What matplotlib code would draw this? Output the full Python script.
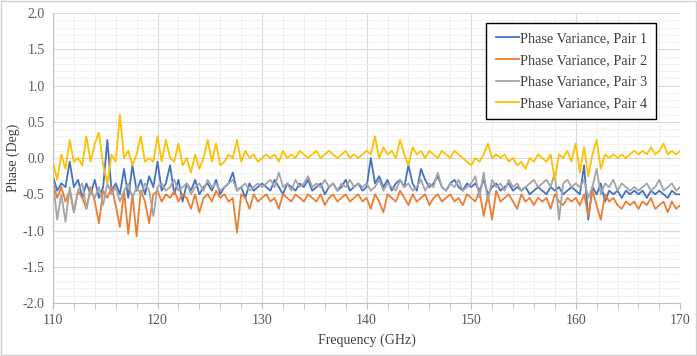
import numpy as np
import matplotlib
matplotlib.use("Agg")
import matplotlib.pyplot as plt
from matplotlib.ticker import MultipleLocator

# frequency points, 0.4 GHz apart, 110..170 GHz
freq = np.round(np.arange(110.0, 170.01, 0.4), 1)

pair1 = [
    -0.25, -0.45, -0.35, -0.40, -0.05, -0.40, -0.30, -0.55, -0.35, -0.50, -0.30, -0.55, -0.40, 0.25, -0.45, -0.35, -0.50, -0.15, -0.55, -0.10, -0.45, -0.30, -0.50, -0.25, -0.40,
    -0.05, -0.45, -0.35, -0.10, -0.50, -0.30, -0.60, -0.35, -0.45, -0.30, -0.50, -0.40, -0.35, -0.45, -0.30, -0.50, -0.40, -0.35, -0.20, -0.45, -0.40, -0.55, -0.35, -0.45, -0.40,
    -0.35, -0.40, -0.45, -0.30, -0.40, -0.50, -0.35, -0.40, -0.45, -0.35, -0.40, -0.30, -0.45, -0.40, -0.35, -0.50, -0.40, -0.35, -0.45, -0.40, -0.30, -0.45, -0.40, -0.35, -0.45,
    -0.40, 0.00, -0.35, -0.25, -0.40, -0.30, -0.45, -0.35, -0.30, -0.40, -0.10, -0.35, -0.45, -0.15, -0.30, -0.40, -0.35, -0.25, -0.40, -0.45, -0.35, -0.30, -0.40, -0.45, -0.35,
    -0.40, -0.35, -0.45, -0.30, -0.50, -0.40, -0.35, -0.45, -0.40, -0.35, -0.45, -0.40, -0.45, -0.40, -0.50, -0.45, -0.40, -0.45, -0.50, -0.40, -0.45, -0.40, -0.50, -0.45, -0.40,
    -0.45, -0.50, -0.10, -0.85, -0.40, -0.50, -0.35, -0.60, -0.45, -0.50, -0.45, -0.55, -0.45, -0.50, -0.45, -0.50, -0.45, -0.55, -0.45, -0.50, -0.45, -0.50, -0.55, -0.45, -0.50,
    -0.50,
]

pair2 = [
    -0.35, -0.55, -0.40, -0.60, -0.45, -0.75, -0.45, -0.55, -0.70, -0.40, -0.60, -0.90, -0.45, -0.55, -0.40, -0.65, -0.95, -0.45, -1.05, -0.50, -1.08, -0.45, -0.60, -0.90, -0.50,
    -0.45, -0.60, -0.50, -0.55, -0.45, -0.60, -0.50, -0.55, -0.70, -0.50, -0.75, -0.55, -0.50, -0.60, -0.45, -0.55, -0.50, -0.60, -0.55, -1.03, -0.50, -0.55, -0.70, -0.50, -0.60,
    -0.55, -0.50, -0.60, -0.55, -0.70, -0.50, -0.55, -0.60, -0.50, -0.55, -0.60, -0.50, -0.55, -0.60, -0.50, -0.65, -0.55, -0.50, -0.60, -0.55, -0.50, -0.60, -0.55, -0.50, -0.60,
    -0.55, -0.70, -0.50, -0.60, -0.75, -0.50, -0.55, -0.60, -0.45, -0.55, -0.65, -0.50, -0.60, -0.55, -0.50, -0.65, -0.55, -0.50, -0.60, -0.55, -0.50, -0.60, -0.55, -0.65, -0.50,
    -0.55, -0.60, -0.45, -0.80, -0.50, -0.85, -0.45, -0.60, -0.55, -0.50, -0.60, -0.70, -0.50, -0.60, -0.55, -0.65, -0.55, -0.60, -0.55, -0.70, -0.50, -0.60, -0.65, -0.55, -0.60,
    -0.55, -0.65, -0.50, -0.80, -0.45, -0.65, -0.85, -0.50, -0.60, -0.55, -0.65, -0.70, -0.60, -0.65, -0.60, -0.70, -0.60, -0.65, -0.55, -0.70, -0.65, -0.60, -0.75, -0.60, -0.70,
    -0.65,
]

pair3 = [
    -0.30, -0.85, -0.50, -0.88, -0.40, -0.75, -0.45, -0.35, -0.70, -0.45, -0.55, -0.40, -0.65, -0.35, -0.50, -0.40, -0.60, -0.45, -0.35, -0.55, -0.40, -0.50, -0.35, -0.45, -0.80,
    -0.40, -0.35, -0.45, -0.40, -0.30, -0.45, -0.40, -0.35, -0.50, -0.40, -0.35, -0.45, -0.30, -0.40, -0.35, -0.45, -0.40, -0.35, -0.30, -0.45, -0.40, -0.35, -0.45, -0.40, -0.35,
    -0.40, -0.35, -0.30, -0.40, -0.20, -0.40, -0.35, -0.45, -0.30, -0.40, -0.35, -0.25, -0.40, -0.35, -0.40, -0.30, -0.40, -0.35, -0.45, -0.35, -0.40, -0.30, -0.40, -0.35, -0.40,
    -0.35, -0.45, -0.40, -0.30, -0.45, -0.35, -0.40, -0.45, -0.30, -0.40, -0.35, -0.45, -0.40, -0.30, -0.45, -0.35, -0.40, -0.20, -0.40, -0.45, -0.35, -0.40, -0.30, -0.45, -0.40,
    -0.35, -0.25, -0.55, -0.20, -0.60, -0.30, -0.40, -0.35, -0.45, -0.30, -0.40, -0.35, -0.45, -0.40, -0.35, -0.30, -0.40, -0.35, -0.30, -0.40, -0.20, -0.85, -0.35, -0.30, -0.40,
    -0.35, -0.40, -0.30, -0.55, -0.40, -0.15, -0.50, -0.35, -0.40, -0.30, -0.45, -0.35, -0.40, -0.45, -0.40, -0.45, -0.40, -0.35, -0.45, -0.40, -0.30, -0.45, -0.40, -0.35, -0.45,
    -0.40,
]

pair4 = [
    -0.05, -0.30, 0.05, -0.15, 0.25, -0.05, 0.00, -0.10, 0.30, -0.05, 0.20, 0.35, -0.10, -0.35, 0.05, -0.05, 0.60, 0.00, 0.10, -0.10, 0.05, 0.30, -0.05, 0.00, -0.05,
    0.30, -0.05, 0.25, 0.00, -0.05, 0.20, -0.10, 0.00, -0.20, 0.05, -0.15, 0.00, 0.25, -0.05, 0.20, -0.10, -0.05, 0.05, 0.00, 0.25, -0.05, 0.10, 0.00, 0.05, -0.05,
    0.00, 0.05, 0.00, 0.05, -0.05, 0.10, 0.00, 0.05, 0.00, 0.10, 0.05, 0.00, 0.05, 0.10, 0.00, 0.05, 0.10, 0.05, 0.00, 0.05, 0.10, 0.00, 0.05, 0.00, 0.05,
    0.10, 0.05, 0.30, 0.00, 0.15, 0.05, 0.10, 0.00, 0.25, 0.05, -0.10, 0.15, 0.05, 0.10, 0.00, 0.10, 0.05, 0.00, 0.10, 0.05, 0.00, 0.10, 0.05, 0.00, -0.05,
    -0.10, 0.00, -0.05, 0.05, 0.20, 0.00, 0.05, 0.00, 0.05, -0.05, 0.00, -0.10, -0.05, -0.15, 0.00, -0.05, 0.05, 0.00, -0.05, 0.05, -0.30, 0.05, 0.00, 0.10, -0.05,
    0.20, -0.20, 0.15, -0.25, 0.05, 0.25, -0.15, 0.05, 0.00, 0.05, 0.00, 0.05, 0.00, 0.05, 0.10, 0.05, 0.10, 0.05, 0.15, 0.05, 0.10, 0.20, 0.05, 0.10, 0.05,
    0.10,
]

labels = ["Phase Variance, Pair 1", "Phase Variance, Pair 2",
          "Phase Variance, Pair 3", "Phase Variance, Pair 4"]
colors = ["#4472C4", "#ED7D31", "#A5A5A5", "#FFC000"]

plt.rcParams['font.family'] = ['Liberation Serif', 'DejaVu Serif']

fig = plt.figure(figsize=(6.97, 3.56), dpi=100)
ax = fig.add_axes([0.076, 0.149, 0.9, 0.814])

# outer chart border
fig.patches.append(plt.Rectangle((0.001, 0.002), 0.997, 0.995, transform=fig.transFigure,
                                 fill=False, edgecolor="#d0d0d0", linewidth=1))

for y, lab, c in zip([pair1, pair2, pair3, pair4], labels, colors):
    ax.plot(freq, y, color=c, linewidth=1.3, label=lab)

ax.set_xlim(110, 170)
ax.set_ylim(-2.0, 2.0)
ax.xaxis.set_major_locator(MultipleLocator(10))
ax.xaxis.set_minor_locator(MultipleLocator(2))
ax.yaxis.set_major_locator(MultipleLocator(0.5))
ax.yaxis.set_minor_locator(MultipleLocator(0.1))
ax.yaxis.set_major_formatter(matplotlib.ticker.FormatStrFormatter("%.1f"))

ax.grid(which="major", color="#d9d9d9", linewidth=0.8)
ax.grid(which="minor", color="#efefef", linewidth=0.6)
ax.set_axisbelow(True)

for s in ["top", "right"]:
    ax.spines[s].set_visible(False)
ax.spines["left"].set_color("#bfbfbf")
ax.spines["bottom"].set_color("#bfbfbf")

ax.tick_params(axis="y", which="both", length=0, labelsize=10, colors="#595959", pad=6)
ax.tick_params(axis="x", which="major", length=4, color="#bfbfbf", labelsize=10,
               labelcolor="#595959", pad=4)
ax.tick_params(axis="x", which="minor", length=4, color="#bfbfbf")

ax.set_xlabel("Frequency (GHz)", fontsize=10, color="#404040", labelpad=5)
ax.set_ylabel("Phase (Deg)", fontsize=10, color="#404040")
ax.yaxis.set_label_coords(-0.052, 0.5)

leg = ax.legend(loc="upper right", bbox_to_anchor=(0.962, 0.966), borderaxespad=0,
                fontsize=10.3, fancybox=False, edgecolor="black", framealpha=1,
                handlelength=1.6, handletextpad=0.1, borderpad=0.65, labelspacing=0.6)
leg.get_frame().set_linewidth(1.0)
for t in leg.get_texts():
    t.set_color("#404040")

fig.savefig("out.png", dpi=100)
